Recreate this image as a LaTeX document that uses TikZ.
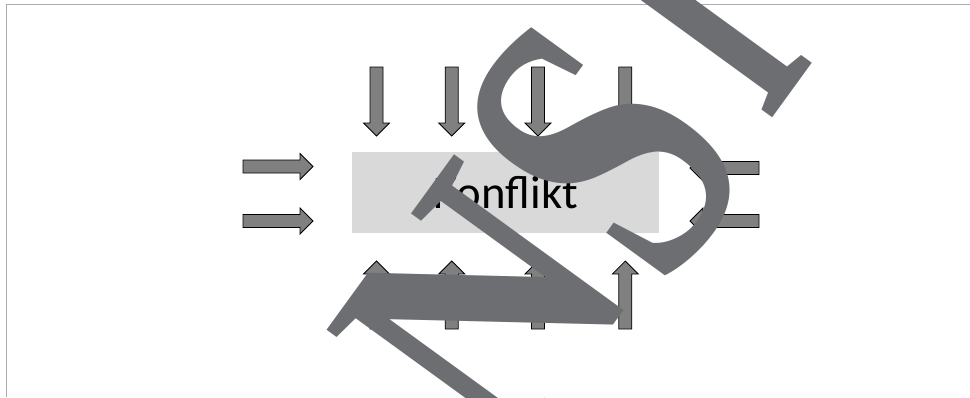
\documentclass[tikz,border=0pt]{standalone}
\usepackage{fontspec}
\setmainfont{Carlito}
\newfontfamily\wmfont{Liberation Serif}
\definecolor{arrowgray}{RGB}{128,128,128}
\definecolor{boxgray}{RGB}{217,217,217}
\definecolor{framegray}{RGB}{172,172,172}
\definecolor{wmgray}{RGB}{109,110,113}
\tikzset{
  blockarr/.style={fill=arrowgray,draw=black,line width=0.6pt,line join=miter},
  wmletter/.style={text=wmgray,font=\wmfont\bfseries\fontsize{262}{262}\selectfont,inner sep=0pt,anchor=base,rotate=54}
}
% block arrow: tail, angle, length
\newcommand{\blockarrow}[3]{%
  \begin{scope}[shift={#1},rotate=#2]
    \draw[blockarr] (0,-6.5) -- (#3-13,-6.5) -- (#3-13,-13) -- (#3,0) -- (#3-13,13) -- (#3-13,6.5) -- (0,6.5) -- cycle;
  \end{scope}}
\begin{document}
\begin{tikzpicture}[x=0.75pt,y=-0.75pt]
\useasboundingbox (0,0) rectangle (970,397);
\draw[framegray, line width=1.2pt] (6.5,397) -- (6.5,4.5) -- (970,4.5);
% the box
\node[fill=boxgray, minimum width=230.25pt, minimum height=60.75pt, inner sep=0pt, font=\fontsize{35}{35}\selectfont] (konflikt) at (505.5,192.5) {Konflikt};
% arrows from the left and right
\blockarrow{(243,166.5)}{0}{70}
\blockarrow{(243,221)}{0}{70}
\blockarrow{(759,168)}{180}{69}
\blockarrow{(759,221)}{180}{69}
% arrows from above and below
\foreach \x in {376.5,451.7,538,625.3}{
  \blockarrow{(\x,67)}{-90}{69}
  \blockarrow{(\x,329)}{90}{68}
}
% watermark
\node[wmletter] (wmN) at (575,378) {\scalebox{0.9}[1]{N}};
\node[wmletter] (wmS) at (712,228) {\scalebox{0.84}[1.18]{S}};
\node[wmletter] (wmI) at (792,90) {\scalebox{0.6}[1.05]{I}};
\end{tikzpicture}
\end{document}
